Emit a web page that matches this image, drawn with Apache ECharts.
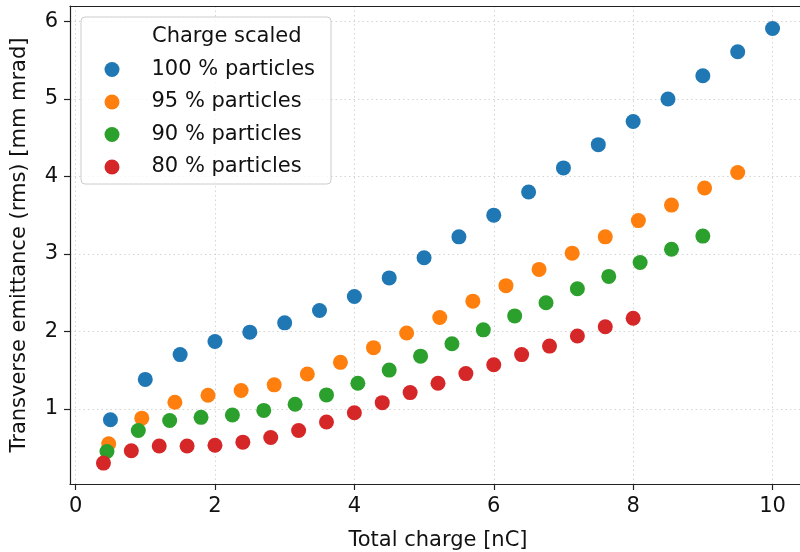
<!DOCTYPE html>
<html>
<head>
<meta charset="utf-8">
<script src="https://cdn.jsdelivr.net/npm/echarts@6/dist/echarts.min.js"></script>
<style>
  html, body { margin: 0; padding: 0; background: #fff; overflow: hidden; }
  #chart { width: 800px; height: 552px; }
</style>
</head>
<body>
<div id="chart"></div>
<script>
// x positions (total charge, nC) per series
const x100 = [0.5, 1.0, 1.5, 2.0, 2.5, 3.0, 3.5, 4.0, 4.5, 5.0, 5.5, 6.0, 6.5, 7.0, 7.5, 8.0, 8.5, 9.0, 9.5, 10.0];
const x95 = [0.475, 0.95, 1.425, 1.9, 2.375, 2.85, 3.325, 3.8, 4.275, 4.75, 5.225, 5.7, 6.175, 6.65, 7.125, 7.6, 8.075, 8.55, 9.025, 9.5];
const x90 = [0.45, 0.9, 1.35, 1.8, 2.25, 2.7, 3.15, 3.6, 4.05, 4.5, 4.95, 5.4, 5.85, 6.3, 6.75, 7.2, 7.65, 8.1, 8.55, 9.0];
const x80 = [0.4, 0.8, 1.2, 1.6, 2.0, 2.4, 2.8, 3.2, 3.6, 4.0, 4.4, 4.8, 5.2, 5.6, 6.0, 6.4, 6.8, 7.2, 7.6, 8.0];

// transverse emittance (rms) [mm mrad]
const y100 = [0.86, 1.38, 1.70, 1.87, 1.99, 2.11, 2.27, 2.45, 2.69, 2.95, 3.22, 3.50, 3.80, 4.11, 4.41, 4.71, 5.00, 5.30, 5.61, 5.91];
const y95 = [0.55, 0.88, 1.085, 1.175, 1.236, 1.31, 1.45, 1.60, 1.79, 1.98, 2.18, 2.39, 2.59, 2.80, 3.01, 3.22, 3.43, 3.63, 3.85, 4.05];
const y90 = [0.45, 0.72, 0.85, 0.89, 0.92, 0.98, 1.06, 1.18, 1.33, 1.50, 1.68, 1.84, 2.02, 2.20, 2.37, 2.55, 2.71, 2.89, 3.06, 3.23];
const y80 = [0.30, 0.46, 0.52, 0.52, 0.53, 0.57, 0.63, 0.72, 0.83, 0.95, 1.08, 1.21, 1.33, 1.455, 1.57, 1.70, 1.81, 1.94, 2.06, 2.17];

const seriesNames = ["100 % particles", "95 % particles", "90 % particles", "80 % particles"];
const xTicks = [0, 2, 4, 6, 8, 10];
const yTicks = [1, 2, 3, 4, 5, 6];

const colors = ["#1f77b4", "#ff7f0e", "#2ca02c", "#d62728"];
const font = "DejaVu Sans";

const zip = (xs, ys) => xs.map((v, i) => [v, ys[i]]);
const allX = [x100, x95, x90, x80];
const allY = [y100, y95, y90, y80];

const chart = echarts.init(document.getElementById("chart"));

const gridLine = {
  show: true,
  lineStyle: { color: "#d4d4d4", width: 1, type: [1.5, 3] },
};
const spine = { show: true, onZero: false, lineStyle: { color: "#222", width: 1.2 } };

const option = {
  animation: false,
  color: colors,
  textStyle: { fontFamily: font },
  // plot runs a little past the right edge (right spine cut off)
  grid: {
    left: 70,
    top: 6,
    width: 736,
    height: 478,
    containLabel: false,
    outerBoundsMode: "none",
  },
  xAxis: [
    {
      type: "value",
      min: -0.08,
      max: 10.48,
      name: "Total charge [nC]",
      nameLocation: "middle",
      nameGap: 46,
      nameTextStyle: { fontSize: 21, color: "#111", fontFamily: font },
      axisLine: spine,
      axisTick: { show: true, length: 6, customValues: xTicks, lineStyle: { color: "#222", width: 1.2 } },
      axisLabel: { customValues: xTicks, fontSize: 21, color: "#111", margin: 12, fontFamily: font },
      splitLine: gridLine,
    },
    // top spine only
    {
      type: "value",
      position: "top",
      min: -0.08,
      max: 10.48,
      axisLine: spine,
      axisTick: { show: false },
      axisLabel: { show: false },
      splitLine: { show: false },
    },
  ],
  yAxis: {
    type: "value",
    min: 0.03,
    max: 6.2,
    name: "Transverse emittance (rms) [mm mrad]",
    nameLocation: "middle",
    nameGap: 40,
    nameTextStyle: { fontSize: 21, color: "#111", fontFamily: font },
    axisLine: spine,
    axisTick: { show: true, length: 6, customValues: yTicks, lineStyle: { color: "#222", width: 1.2 } },
    axisLabel: { customValues: yTicks, fontSize: 21, color: "#111", margin: 12, fontFamily: font },
    splitLine: gridLine,
  },
  legend: {
    orient: "vertical",
    left: 104.5,
    top: 59,
    padding: 0,
    icon: "circle",
    itemWidth: 15,
    itemHeight: 15,
    itemGap: 11.5,
    z: 5,
    data: seriesNames,
    textStyle: { fontSize: 21, lineHeight: 21, color: "#111", fontFamily: font, padding: [0, 0, 0, 27] },
  },
  // legend frame + title
  graphic: [
    {
      type: "rect",
      z: 3,
      shape: { x: 81, y: 17, width: 250, height: 167, r: 4 },
      style: { fill: "rgba(255,255,255,0.8)", stroke: "#cccccc", lineWidth: 1 },
    },
    {
      type: "text",
      z: 4,
      left: 152,
      top: 26,
      style: { text: "Charge scaled", fontSize: 21, fill: "#111", fontFamily: font },
    },
  ],
  series: seriesNames.map((name, i) => ({
    name: name,
    type: "scatter",
    symbolSize: 15,
    data: zip(allX[i], allY[i]),
    itemStyle: { opacity: 1 },
  })),
};

chart.setOption(option);
</script>
</body>
</html>
